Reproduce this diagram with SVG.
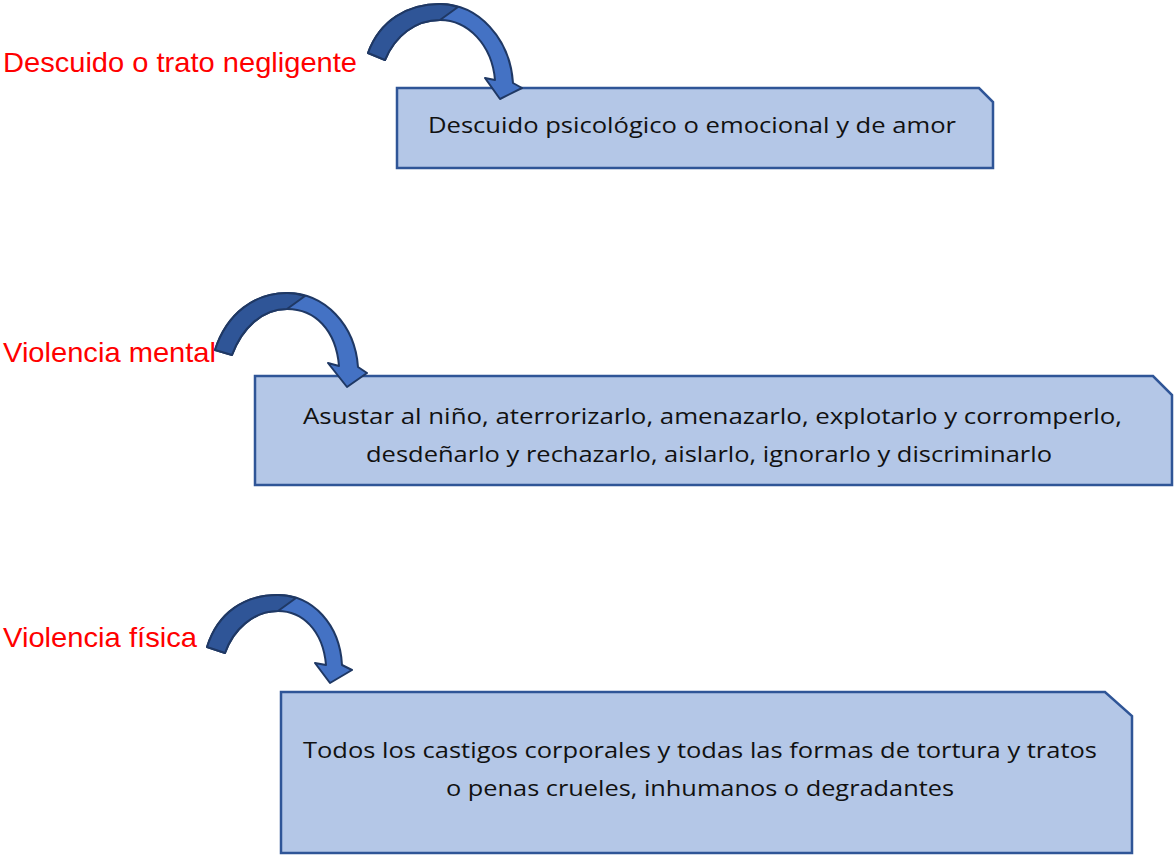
<svg xmlns="http://www.w3.org/2000/svg" width="1175" height="856" viewBox="0 0 1175 856">
<style>
.box{fill:#b4c7e7;stroke:#2f5597;stroke-width:2.5}
.t{font-family:"Open Sans","Noto Sans",sans-serif;font-size:22px;fill:#111}
.lbl{font-family:"Liberation Sans",Arial,sans-serif;font-size:28px;fill:#ff0000}
.al{fill:#4472c4;stroke:#1f3864;stroke-width:2;stroke-linejoin:round}
.ad{fill:#2f5597;stroke:#1f3864;stroke-width:2;stroke-linejoin:round}
</style>
<rect width="1175" height="856" fill="#ffffff"/>
<g id="node-descuido">
<path class="box" d="M397,88 H979 L993,102 V168 H397 Z"/>
<text class="t" x="428" y="133" textLength="528" lengthAdjust="spacingAndGlyphs">Descuido psicológico o emocional y de amor</text>
</g>
<g id="node-mental">
<path class="box" d="M255,376 H1153 L1172,395 V485 H255 Z"/>
<text class="t" x="303" y="424" textLength="819" lengthAdjust="spacingAndGlyphs">Asustar al niño, aterrorizarlo, amenazarlo, explotarlo y corromperlo,</text>
<text class="t" x="366" y="462" textLength="686" lengthAdjust="spacingAndGlyphs">desdeñarlo y rechazarlo, aislarlo, ignorarlo y discriminarlo</text>
</g>
<g id="node-fisica">
<path class="box" d="M281,692 H1105 L1132,716 V853 H281 Z"/>
<text class="t" x="303" y="758" textLength="794" lengthAdjust="spacingAndGlyphs">Todos los castigos corporales y todas las formas de tortura y tratos</text>
<text class="t" x="446" y="796" textLength="508" lengthAdjust="spacingAndGlyphs">o penas crueles, inhumanos o degradantes</text>
</g>
<g id="label-descuido"><text class="lbl" x="3" y="72" textLength="354" lengthAdjust="spacingAndGlyphs">Descuido o trato negligente</text></g>
<g id="label-mental"><text class="lbl" x="3" y="362" textLength="213" lengthAdjust="spacingAndGlyphs">Violencia mental</text></g>
<g id="label-fisica"><text class="lbl" x="3" y="647" textLength="194" lengthAdjust="spacingAndGlyphs">Violencia física</text></g>
<g id="connectors">
<g id="arrow1">
<path class="al" d="M368,53 C380,20 408,4 440,4 C478,4 510,38 513,83 L522,88 L500,99 L485,78 L495,80 C492,45 468,20 440,20 C415,20 395,36 385,60 Z"/>
<path class="ad" d="M368,53 C380,20 408,4 440,4 C446,4 452,5 458,7 L440,20 C415,20 395,36 385,60 Z"/>
</g>
<g id="arrow2">
<path class="al" d="M215,350 C227,313 255,293 287,293 C325,293 355,325 358,367 L367,373 L347,387 L328,363 L339,366 C336,330 315,309 287,309 C262,309 242,328 232,355 Z"/>
<path class="ad" d="M215,350 C227,313 255,293 287,293 C293,293 299,294 305,296 L287,309 C262,309 242,328 232,355 Z"/>
</g>
<g id="arrow3">
<path class="al" d="M207,647 C218,612 245,595 278,595 C313,595 340,625 342,665 L352,670 L330,683 L315,663 L326,665 C323,630 302,611 278,611 C253,611 233,630 225,653 Z"/>
<path class="ad" d="M207,647 C218,612 245,595 278,595 C284,595 290,596 296,598 L278,611 C253,611 233,630 225,653 Z"/>
</g>
</g>
</svg>
